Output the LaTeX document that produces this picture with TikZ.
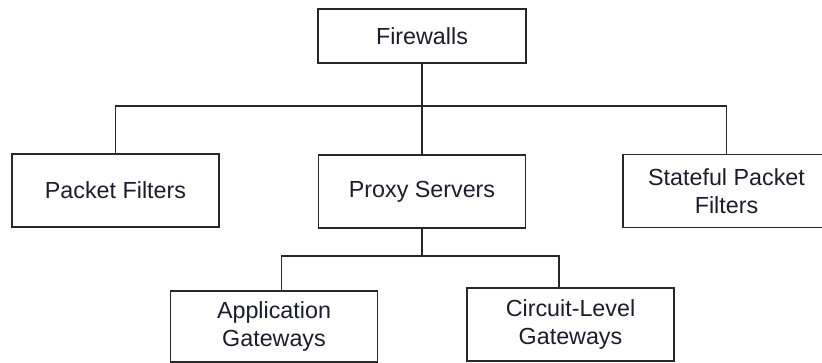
\documentclass[tikz,border=0pt]{standalone}
\usepackage{fontspec}
\setmainfont{Liberation Sans}
\usepackage{tikz}
\definecolor{inkdark}{RGB}{28,28,44}
\definecolor{linedark}{RGB}{40,40,40}

\begin{document}
\begin{tikzpicture}[x=1pt, y=-1pt,
  box/.style={draw=linedark, line width=1.6pt, minimum width=207pt, minimum height=73pt,
    inner sep=0pt, align=center, text=inkdark, font=\fontsize{23.3}{28}\selectfont},
  link/.style={draw=linedark, line width=1.6pt}]
  \clip (0,0) rectangle (822,362);

  % Root
  \node[box, minimum width=208pt, minimum height=54pt] (fw) at (422,36) {Firewalls};

  % Second level
  \node[box] (pf) at (115.5,190.5) {Packet Filters};
  \node[box] (ps) at (422,191.5) {Proxy Servers};
  \node[box] (sf) at (726.5,191) {Stateful Packet\\Filters};

  % Third level
  \node[box, minimum height=71pt] (ag) at (274,326.5) {Application\\Gateways};
  \node[box] (cg) at (570.5,324.5) {Circuit-Level\\Gateways};

  % Links from root
  \draw[link] (fw.south) -- ++(0,42) -| (pf.north);
  \draw[link] (fw.south) -- ++(0,42) -| (sf.north);
  \draw[link] (fw.south) -- (ps.north);

  % Links from proxy servers
  \draw[link] (ps.south) -- ++(0,27) -| ([xshift=7.5pt]ag.north);
  \draw[link] (ps.south) -- ++(0,27) -| ([xshift=-11.5pt]cg.north);
\end{tikzpicture}
\end{document}
